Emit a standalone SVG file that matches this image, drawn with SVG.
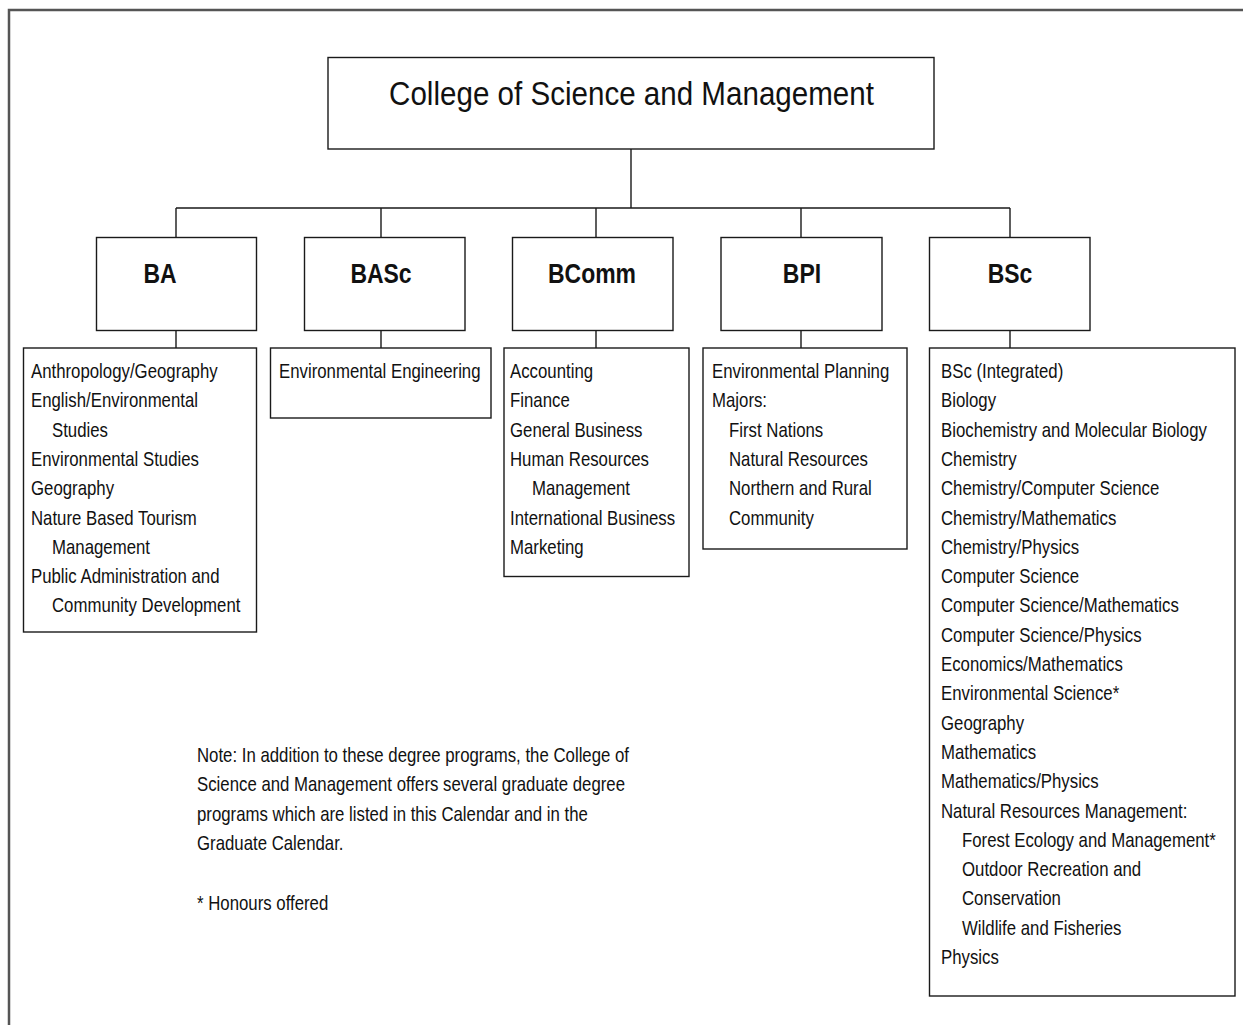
<svg xmlns="http://www.w3.org/2000/svg" width="1243" height="1025" viewBox="0 0 1243 1025">
<style>
.box{fill:#fff;stroke:#1a1a1a;stroke-width:1.4}
.ln{fill:none;stroke:#1a1a1a;stroke-width:1.4}
.t{font-family:"Liberation Sans",Arial,sans-serif;fill:#111}
.title{font-size:33px;text-anchor:middle}
.head{font-size:28px;font-weight:bold;text-anchor:middle}
.item{font-size:20px}
</style>
<rect width="1243" height="1025" fill="#fff"/>
<path d="M9,1025 V10 H1243" fill="none" stroke="#555" stroke-width="2.5"/>

<g id="connectors">
<path class="ln" d="M631,149 V208 M176,208 H1010 M176,208 V237 M381,208 V237 M596,208 V237 M801,208 V237 M1010,208 V237"/>
<path class="ln" d="M176,331 V348 M381,331 V348 M596,331 V348 M801,331 V348 M1010,331 V348"/>
</g>

<g id="college">
<rect class="box" x="328" y="57.5" width="606" height="91.5"/>
<text class="t title" transform="matrix(0.896 0 0 1 631.5 105)">College of Science and Management</text>
</g>

<g id="ba">
<rect class="box" x="96.5" y="237.5" width="160" height="93"/>
<text class="t head" transform="matrix(0.82 0 0 1 160 283)">BA</text>
</g>
<g id="basc">
<rect class="box" x="304.5" y="237.5" width="160.5" height="93"/>
<text class="t head" transform="matrix(0.82 0 0 1 381 283)">BASc</text>
</g>
<g id="bcomm">
<rect class="box" x="512.5" y="237.5" width="160.5" height="93"/>
<text class="t head" transform="matrix(0.82 0 0 1 592 283)">BComm</text>
</g>
<g id="bpi">
<rect class="box" x="721" y="237.5" width="161" height="93"/>
<text class="t head" transform="matrix(0.82 0 0 1 802 283)">BPI</text>
</g>
<g id="bsc">
<rect class="box" x="929.5" y="237.5" width="160.5" height="93"/>
<text class="t head" transform="matrix(0.82 0 0 1 1010 283)">BSc</text>
</g>

<g id="ba-list">
<rect class="box" x="23.5" y="348" width="233" height="284"/>
<text class="t item" transform="matrix(0.84 0 0 1 31 378)">Anthropology/Geography</text>
<text class="t item" transform="matrix(0.84 0 0 1 31 407.3)">English/Environmental</text>
<text class="t item" transform="matrix(0.84 0 0 1 52 436.6)">Studies</text>
<text class="t item" transform="matrix(0.84 0 0 1 31 465.9)">Environmental Studies</text>
<text class="t item" transform="matrix(0.84 0 0 1 31 495.2)">Geography</text>
<text class="t item" transform="matrix(0.84 0 0 1 31 524.5)">Nature Based Tourism</text>
<text class="t item" transform="matrix(0.84 0 0 1 52 553.8)">Management</text>
<text class="t item" transform="matrix(0.84 0 0 1 31 583.1)">Public Administration and</text>
<text class="t item" transform="matrix(0.84 0 0 1 52 612.4)">Community Development</text>
</g>

<g id="basc-list">
<rect class="box" x="270.5" y="348" width="220.5" height="70"/>
<text class="t item" transform="matrix(0.84 0 0 1 279 378)">Environmental Engineering</text>
</g>

<g id="bcomm-list">
<rect class="box" x="504" y="348" width="185" height="228.5"/>
<text class="t item" transform="matrix(0.84 0 0 1 510 378)">Accounting</text>
<text class="t item" transform="matrix(0.84 0 0 1 510 407.3)">Finance</text>
<text class="t item" transform="matrix(0.84 0 0 1 510 436.6)">General Business</text>
<text class="t item" transform="matrix(0.84 0 0 1 510 465.9)">Human Resources</text>
<text class="t item" transform="matrix(0.84 0 0 1 532 495.2)">Management</text>
<text class="t item" transform="matrix(0.84 0 0 1 510 524.5)">International Business</text>
<text class="t item" transform="matrix(0.84 0 0 1 510 553.8)">Marketing</text>
</g>

<g id="bpi-list">
<rect class="box" x="703" y="348" width="204" height="201"/>
<text class="t item" transform="matrix(0.84 0 0 1 712 378)">Environmental Planning</text>
<text class="t item" transform="matrix(0.84 0 0 1 712 407.3)">Majors:</text>
<text class="t item" transform="matrix(0.84 0 0 1 729 436.6)">First Nations</text>
<text class="t item" transform="matrix(0.84 0 0 1 729 465.9)">Natural Resources</text>
<text class="t item" transform="matrix(0.84 0 0 1 729 495.2)">Northern and Rural</text>
<text class="t item" transform="matrix(0.84 0 0 1 729 524.5)">Community</text>
</g>

<g id="bsc-list">
<rect class="box" x="929.5" y="348" width="305.5" height="648"/>
<text class="t item" transform="matrix(0.84 0 0 1 941 378)">BSc (Integrated)</text>
<text class="t item" transform="matrix(0.84 0 0 1 941 407.3)">Biology</text>
<text class="t item" transform="matrix(0.84 0 0 1 941 436.6)">Biochemistry and Molecular Biology</text>
<text class="t item" transform="matrix(0.84 0 0 1 941 465.9)">Chemistry</text>
<text class="t item" transform="matrix(0.84 0 0 1 941 495.2)">Chemistry/Computer Science</text>
<text class="t item" transform="matrix(0.84 0 0 1 941 524.5)">Chemistry/Mathematics</text>
<text class="t item" transform="matrix(0.84 0 0 1 941 553.8)">Chemistry/Physics</text>
<text class="t item" transform="matrix(0.84 0 0 1 941 583.1)">Computer Science</text>
<text class="t item" transform="matrix(0.84 0 0 1 941 612.4)">Computer Science/Mathematics</text>
<text class="t item" transform="matrix(0.84 0 0 1 941 641.7)">Computer Science/Physics</text>
<text class="t item" transform="matrix(0.84 0 0 1 941 671)">Economics/Mathematics</text>
<text class="t item" transform="matrix(0.84 0 0 1 941 700.3)">Environmental Science*</text>
<text class="t item" transform="matrix(0.84 0 0 1 941 729.6)">Geography</text>
<text class="t item" transform="matrix(0.84 0 0 1 941 758.9)">Mathematics</text>
<text class="t item" transform="matrix(0.84 0 0 1 941 788.2)">Mathematics/Physics</text>
<text class="t item" transform="matrix(0.84 0 0 1 941 817.5)">Natural Resources Management:</text>
<text class="t item" transform="matrix(0.84 0 0 1 962 846.8)">Forest Ecology and Management*</text>
<text class="t item" transform="matrix(0.84 0 0 1 962 876.1)">Outdoor Recreation and</text>
<text class="t item" transform="matrix(0.84 0 0 1 962 905.4)">Conservation</text>
<text class="t item" transform="matrix(0.84 0 0 1 962 934.7)">Wildlife and Fisheries</text>
<text class="t item" transform="matrix(0.84 0 0 1 941 964)">Physics</text>
</g>

<g id="note">
<text class="t item" transform="matrix(0.84 0 0 1 197 762)">Note: In addition to these degree programs, the College of</text>
<text class="t item" transform="matrix(0.84 0 0 1 197 791.3)">Science and Management offers several graduate degree</text>
<text class="t item" transform="matrix(0.84 0 0 1 197 820.6)">programs which are listed in this Calendar and in the</text>
<text class="t item" transform="matrix(0.84 0 0 1 197 849.9)">Graduate Calendar.</text>
<text class="t item" transform="matrix(0.84 0 0 1 197 910)">* Honours offered</text>
</g>
</svg>
